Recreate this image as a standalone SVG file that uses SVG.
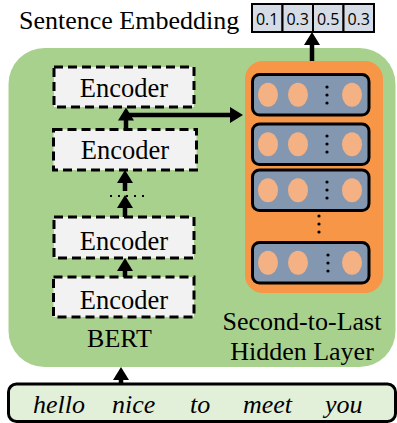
<svg xmlns="http://www.w3.org/2000/svg" width="397" height="423" viewBox="0 0 397 423">
<defs>
<style>
.t{font-family:"Liberation Serif","Times New Roman",serif;font-size:26px;fill:#000}
.e{font-family:"Liberation Serif","Times New Roman",serif;font-size:26.5px;fill:#000;text-anchor:middle}
.ti{font-family:"Liberation Serif","Times New Roman",serif;font-size:26px;font-style:italic;fill:#000}
.num{font-family:"Open Sans","DejaVu Sans",sans-serif;font-size:16px;fill:#000;text-anchor:middle}
.enc{fill:#f2f2f2;stroke:#000;stroke-width:3;stroke-dasharray:9 5}
.row{fill:#8497b0;stroke:#000;stroke-width:3}
.neu{fill:#f4b183}
.dot{fill:#000}
.cell{fill:#d6dce5;stroke:#000;stroke-width:2}
.arr{stroke:#000;stroke-width:4.5;fill:none;marker-end:url(#ah)}
</style>
<marker id="ah" markerUnits="userSpaceOnUse" viewBox="0 0 13 16" markerWidth="13" markerHeight="16" refX="2" refY="8" orient="auto">
<path d="M0,0 L13,8 L0,16 z" fill="#000"/>
</marker>
</defs>
<rect width="397" height="423" fill="#fff"/>
<text class="t" x="19" y="28.5">Sentence Embedding</text>
<g id="embedding">
<rect class="cell" x="252" y="4" width="30.5" height="28"/>
<rect class="cell" x="282.5" y="4" width="30.5" height="28"/>
<rect class="cell" x="313" y="4" width="30.5" height="28"/>
<rect class="cell" x="343.5" y="4" width="30.5" height="28"/>
<text class="num" x="267.2" y="24.5">0.1</text>
<text class="num" x="297.7" y="24.5">0.3</text>
<text class="num" x="328.2" y="24.5">0.5</text>
<text class="num" x="358.7" y="24.5">0.3</text>
</g>
<g id="bert">
<rect x="8.5" y="48" width="387" height="319" rx="36" fill="#a9d18e"/>
<text class="t" x="119.5" y="346.5" text-anchor="middle">BERT</text>
</g>
<g id="encoder1">
<rect class="enc" x="54" y="67" width="140" height="40"/>
<text class="e" x="124" y="97">Encoder</text>
</g>
<g id="encoder2">
<rect class="enc" x="53.5" y="129.5" width="143" height="40.5"/>
<text class="e" x="125" y="158.5">Encoder</text>
</g>
<g id="encoder3">
<rect class="enc" x="54" y="217" width="140" height="41"/>
<text class="e" x="124" y="250">Encoder</text>
</g>
<g id="encoder4">
<rect class="enc" x="53.5" y="277" width="140.5" height="40"/>
<text class="e" x="124" y="309">Encoder</text>
</g>
<g id="hidden">
<rect x="245" y="61" width="138" height="232" rx="18" fill="#f79646"/>
<rect class="row" x="252.5" y="74.5" width="116.5" height="40.5" rx="7"/>
<ellipse class="neu" cx="268" cy="94.7" rx="10" ry="12"/>
<ellipse class="neu" cx="298" cy="94.7" rx="10" ry="12"/>
<ellipse class="neu" cx="352" cy="94.7" rx="10" ry="12"/>
<circle class="dot" cx="327" cy="87" r="1.6"/><circle class="dot" cx="327" cy="95" r="1.6"/><circle class="dot" cx="327" cy="103" r="1.6"/>
<rect class="row" x="252.5" y="124" width="116.5" height="40.5" rx="7"/>
<ellipse class="neu" cx="268" cy="144.2" rx="10" ry="12"/>
<ellipse class="neu" cx="298" cy="144.2" rx="10" ry="12"/>
<ellipse class="neu" cx="352" cy="144.2" rx="10" ry="12"/>
<circle class="dot" cx="327" cy="136" r="1.6"/><circle class="dot" cx="327" cy="144" r="1.6"/><circle class="dot" cx="327" cy="152" r="1.6"/>
<rect class="row" x="252.5" y="170" width="116.5" height="40.5" rx="7"/>
<ellipse class="neu" cx="268" cy="190.2" rx="10" ry="12"/>
<ellipse class="neu" cx="298" cy="190.2" rx="10" ry="12"/>
<ellipse class="neu" cx="352" cy="190.2" rx="10" ry="12"/>
<circle class="dot" cx="327" cy="182" r="1.6"/><circle class="dot" cx="327" cy="190" r="1.6"/><circle class="dot" cx="327" cy="198" r="1.6"/>
<circle class="dot" cx="319" cy="216" r="1.6"/><circle class="dot" cx="319" cy="224" r="1.6"/><circle class="dot" cx="319" cy="232" r="1.6"/>
<rect class="row" x="252.5" y="242.5" width="116.5" height="40.5" rx="7"/>
<ellipse class="neu" cx="268" cy="262.7" rx="10" ry="12"/>
<ellipse class="neu" cx="298" cy="262.7" rx="10" ry="12"/>
<ellipse class="neu" cx="352" cy="262.7" rx="10" ry="12"/>
<circle class="dot" cx="328" cy="255" r="1.6"/><circle class="dot" cx="328" cy="263" r="1.6"/><circle class="dot" cx="328" cy="271" r="1.6"/>
<text class="t" x="302" y="330" text-anchor="middle">Second-to-Last</text>
<text class="t" x="302" y="360" text-anchor="middle">Hidden Layer</text>
</g>
<g id="input">
<rect x="8.5" y="384" width="387" height="37.5" rx="8" fill="#e2efd9" stroke="#000" stroke-width="3"/>
<text class="ti" x="33" y="413">hello</text>
<text class="ti" x="112" y="413">nice</text>
<text class="ti" x="190" y="413">to</text>
<text class="ti" x="243" y="413">meet</text>
<text class="ti" x="325" y="413">you</text>
</g>
<g id="connectors">
<line class="arr" x1="126" y1="130" x2="126" y2="118.5"/>
<line class="arr" x1="124" y1="115" x2="232" y2="115"/>
<line class="arr" x1="125" y1="191" x2="125" y2="181"/>
<line x1="110" y1="196" x2="146" y2="196" stroke="#000" stroke-width="2" stroke-dasharray="2 6"/>
<line class="arr" x1="125" y1="217" x2="125" y2="206"/>
<line class="arr" x1="125" y1="277" x2="125" y2="269"/>
<line class="arr" x1="121" y1="384" x2="121" y2="378"/>
<line class="arr" x1="312" y1="61" x2="312" y2="43"/>
</g>
</svg>
